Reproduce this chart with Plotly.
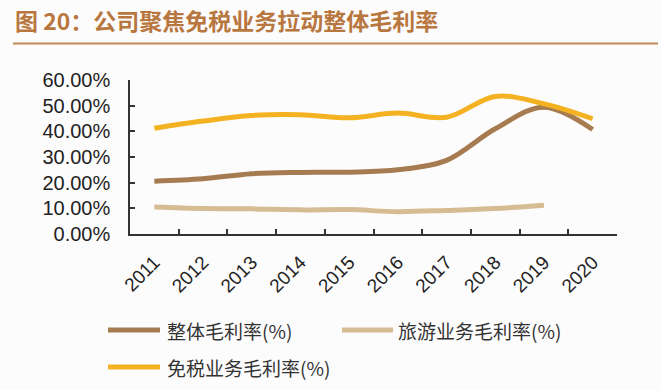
import plotly.graph_objects as go

years = ["2011", "2012", "2013", "2014", "2015", "2016", "2017", "2018", "2019", "2020"]
overall = [20.6, 21.5, 23.5, 24.0, 24.1, 25.0, 28.7, 41.0, 49.4, 40.7]
tourism = [10.5, 9.9, 9.8, 9.4, 9.5, 8.7, 9.2, 9.9, 11.2, None]
dutyfree = [41.2, 44.0, 46.2, 46.5, 45.3, 47.1, 45.5, 53.6, 50.7, 44.9]

names = ["整体毛利率(%)", "旅游业务毛利率(%)", "免税业务毛利率(%)"]
colors = ["#A57B4F", "#D6BC93", "#F4B223"]
title = "图 20：公司聚焦免税业务拉动整体毛利率"

W, H = 661, 390
L, R, T, B = 130, 44, 80, 156
PW, PH = W - L - R, H - T - B


def px(x):
    return (x - L) / PW


def py(y):
    return (H - B - y) / PH


fig = go.Figure()
for vals, name, col in zip([overall, tourism, dutyfree], names, colors):
    fig.add_trace(go.Scatter(
        x=years, y=vals, name=name, mode="lines",
        line=dict(color=col, width=5, shape="spline", smoothing=1.0),
        showlegend=False, connectgaps=False, hoverinfo="skip",
    ))

axis_col = "#333333"
fig.update_layout(
    width=W, height=H,
    margin=dict(l=L, r=R, t=T, b=B),
    paper_bgcolor="#FDFCFD", plot_bgcolor="#FDFCFD",
    xaxis=dict(
        type="category", range=[-0.5, 9.5], showgrid=False, automargin=False,
        showline=True, linecolor=axis_col, linewidth=1.5,
        ticks="inside", tickson="boundaries", ticklen=5, tickcolor=axis_col, tickwidth=1.5,
        tickangle=-45, tickfont=dict(family="Liberation Sans, Arial", size=19, color="#222222"),
        ticklabelstandoff=8,
    ),
    yaxis=dict(
        range=[0, 60], dtick=10, showgrid=False, zeroline=False, automargin=False,
        showline=True, linecolor=axis_col, linewidth=1.5,
        ticks="inside", ticklen=5, tickcolor=axis_col, tickwidth=1.5,
        tickformat=".2f", ticksuffix="%",
        tickfont=dict(family="Liberation Sans, Arial", size=20, color="#222222"),
        ticklabelstandoff=14,
    ),
)

shapes = [dict(type="line", xref="paper", yref="paper",
               x0=px(13), x1=px(658), y0=py(43.5), y1=py(43.5),
               line=dict(color="#C08A55", width=2))]
annotations = [dict(text="<b>" + title + "</b>", xref="paper", yref="paper",
                    x=px(13), y=py(20), xanchor="left", yanchor="middle", showarrow=False,
                    font=dict(family="Noto Sans CJK SC", size=23, color="#B8773F"))]

legend_items = [(108, 160, 165, 330), (342, 393, 396, 330), (108, 160, 165, 367)]
for (x0, x1, tx, ty), name, col in zip(legend_items, names, colors):
    shapes.append(dict(type="line", xref="paper", yref="paper",
                       x0=px(x0), x1=px(x1), y0=py(ty), y1=py(ty),
                       line=dict(color=col, width=5)))
    annotations.append(dict(text=name, xref="paper", yref="paper",
                            x=px(tx), y=py(ty), xanchor="left", yanchor="middle", showarrow=False,
                            font=dict(family="Noto Sans CJK SC", size=19, color="#333333")))

fig.update_layout(shapes=shapes, annotations=annotations)
fig.write_html("out.html", config={"displayModeBar": False},
               post_script="document.body.style.margin='0';document.body.style.overflow='hidden';")
